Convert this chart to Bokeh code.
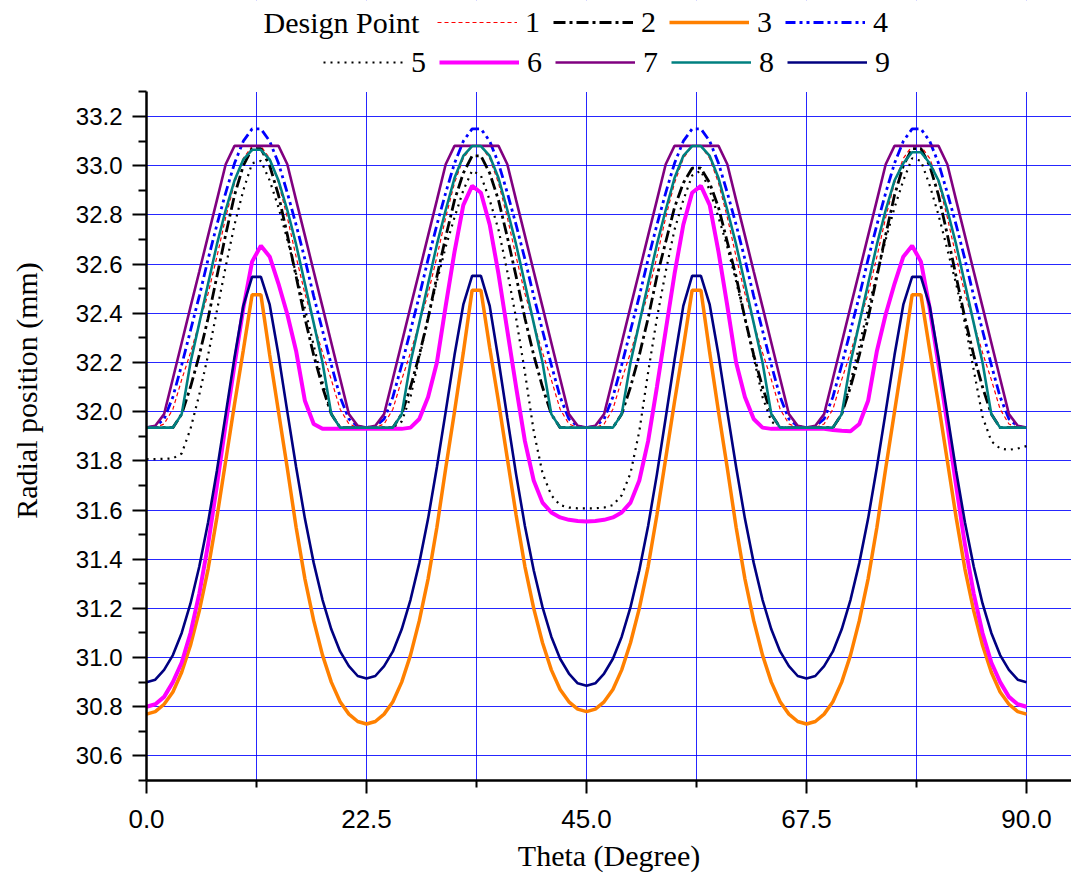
from bokeh.plotting import figure
from bokeh.models import (FixedTicker, NumeralTickFormatter, Legend, LegendItem, Label, Range1d,
                          BoxAnnotation)
from bokeh.embed import file_html
from bokeh.resources import INLINE

theta = [0.0, 0.9, 1.8, 2.7, 3.6, 4.5, 5.4, 6.3, 7.2, 8.1, 9.0, 9.9, 10.8, 11.7, 12.6, 13.5, 14.4, 15.3, 16.2, 17.1,
         18.0, 18.9, 19.8, 20.7, 21.6, 22.5, 23.4, 24.3, 25.2, 26.1, 27.0, 27.9, 28.8, 29.7, 30.6, 31.5, 32.4, 33.3,
         34.2, 35.1, 36.0, 36.9, 37.8, 38.7, 39.6, 40.5, 41.4, 42.3, 43.2, 44.1, 45.0, 45.9, 46.8, 47.7, 48.6, 49.5,
         50.4, 51.3, 52.2, 53.1, 54.0, 54.9, 55.8, 56.7, 57.6, 58.5, 59.4, 60.3, 61.2, 62.1, 63.0, 63.9, 64.8, 65.7,
         66.6, 67.5, 68.4, 69.3, 70.2, 71.1, 72.0, 72.9, 73.8, 74.7, 75.6, 76.5, 77.4, 78.3, 79.2, 80.1, 81.0, 81.9,
         82.8, 83.7, 84.6, 85.5, 86.4, 87.3, 88.2, 89.1, 90.0]

dp1 = [31.935, 31.935, 31.95, 32.01, 32.13, 32.24, 32.36, 32.48, 32.63, 32.79, 32.93, 33.03, 33.08, 33.08, 33.03, 32.93, 32.79, 32.63, 32.48, 32.36, 32.24, 32.13, 32.01, 31.95, 31.935, 31.935,
       31.935, 31.95, 32.01, 32.13, 32.24, 32.36, 32.48, 32.63, 32.79, 32.93, 33.03, 33.08, 33.08, 33.03, 32.93, 32.79, 32.63, 32.48, 32.36, 32.24, 32.13, 32.01, 31.95, 31.935, 31.935,
       31.935, 31.95, 32.01, 32.13, 32.24, 32.36, 32.48, 32.63, 32.79, 32.93, 33.03, 33.08, 33.08, 33.03, 32.93, 32.79, 32.63, 32.48, 32.36, 32.24, 32.13, 32.01, 31.95, 31.935, 31.935,
       31.935, 31.95, 32.01, 32.13, 32.24, 32.36, 32.48, 32.63, 32.79, 32.93, 33.03, 33.08, 33.08, 33.03, 32.93, 32.79, 32.63, 32.48, 32.36, 32.24, 32.13, 32.01, 31.95, 31.935, 31.935]

dp2 = [31.935, 31.935, 31.935, 31.935, 31.99, 32.1, 32.23, 32.38, 32.55, 32.72, 32.88, 33.0, 33.07, 33.07, 33.0, 32.88, 32.72, 32.55, 32.38, 32.23, 32.1, 31.99, 31.935, 31.935, 31.935, 31.935,
       31.935, 31.935, 31.935, 31.99, 32.1, 32.23, 32.38, 32.55, 32.71, 32.86, 32.97, 33.04, 33.04, 32.97, 32.86, 32.71, 32.55, 32.38, 32.23, 32.1, 31.99, 31.935, 31.935, 31.935, 31.935,
       31.935, 31.935, 31.935, 31.99, 32.1, 32.23, 32.38, 32.55, 32.69, 32.83, 32.93, 32.99, 32.99, 32.93, 32.83, 32.69, 32.55, 32.38, 32.23, 32.1, 31.99, 31.935, 31.935, 31.935, 31.935,
       31.935, 31.935, 31.935, 31.99, 32.1, 32.23, 32.38, 32.55, 32.72, 32.88, 33.0, 33.07, 33.07, 33.0, 32.88, 32.72, 32.55, 32.38, 32.23, 32.1, 31.99, 31.935, 31.935, 31.935, 31.935]

dp3 = [30.77, 30.78, 30.81, 30.86, 30.94, 31.05, 31.19, 31.36, 31.57, 31.80, 32.03, 32.25, 32.475, 32.475, 32.23, 32.00, 31.77, 31.53, 31.32, 31.15, 31.01, 30.90, 30.82, 30.77, 30.74, 30.73,
       30.74, 30.77, 30.82, 30.90, 31.01, 31.15, 31.32, 31.53, 31.77, 32.00, 32.24, 32.494, 32.494, 32.26, 32.04, 31.81, 31.58, 31.37, 31.20, 31.06, 30.95, 30.87, 30.82, 30.79, 30.78,
       30.79, 30.82, 30.87, 30.95, 31.06, 31.20, 31.37, 31.58, 31.81, 32.04, 32.26, 32.494, 32.494, 32.24, 32.00, 31.77, 31.53, 31.32, 31.15, 31.01, 30.90, 30.82, 30.77, 30.74, 30.73,
       30.74, 30.77, 30.82, 30.90, 31.01, 31.15, 31.32, 31.53, 31.77, 32.00, 32.23, 32.475, 32.475, 32.25, 32.03, 31.80, 31.57, 31.36, 31.19, 31.05, 30.94, 30.86, 30.81, 30.78, 30.77]

dp4 = [31.935, 31.94, 31.97, 32.06, 32.19, 32.33, 32.47, 32.62, 32.76, 32.89, 33.01, 33.10, 33.15, 33.15, 33.10, 33.01, 32.89, 32.76, 32.62, 32.47, 32.33, 32.19, 32.06, 31.97, 31.94, 31.935,
       31.94, 31.97, 32.06, 32.19, 32.33, 32.47, 32.62, 32.76, 32.89, 33.01, 33.10, 33.15, 33.15, 33.10, 33.01, 32.89, 32.76, 32.62, 32.47, 32.33, 32.19, 32.06, 31.97, 31.94, 31.935,
       31.94, 31.97, 32.06, 32.19, 32.33, 32.47, 32.62, 32.76, 32.89, 33.01, 33.10, 33.15, 33.15, 33.10, 33.01, 32.89, 32.76, 32.62, 32.47, 32.33, 32.19, 32.06, 31.97, 31.94, 31.935,
       31.94, 31.97, 32.06, 32.19, 32.33, 32.47, 32.62, 32.76, 32.89, 33.01, 33.10, 33.15, 33.15, 33.10, 33.01, 32.89, 32.76, 32.62, 32.47, 32.33, 32.19, 32.06, 31.97, 31.94, 31.935]

dp5 = [31.807, 31.807, 31.808, 31.81, 31.83, 31.93, 32.07, 32.23, 32.41, 32.59, 32.76, 32.9, 33.01, 33.02, 32.94, 32.83, 32.7, 32.56, 32.42, 32.27, 32.12, 31.99, 31.935, 31.935, 31.935, 31.935,
       31.935, 31.935, 31.935, 31.96, 32.06, 32.22, 32.38, 32.53, 32.67, 32.79, 32.9, 32.98, 32.96, 32.86, 32.74, 32.57, 32.38, 32.16, 31.92, 31.75, 31.66, 31.62, 31.61, 31.607, 31.607,
       31.607, 31.61, 31.62, 31.66, 31.75, 31.92, 32.16, 32.38, 32.57, 32.74, 32.86, 32.96, 32.98, 32.9, 32.79, 32.67, 32.53, 32.38, 32.22, 32.06, 31.96, 31.935, 31.935, 31.935, 31.935,
       31.935, 31.935, 31.935, 31.99, 32.12, 32.27, 32.42, 32.56, 32.7, 32.83, 32.94, 33.03, 33.02, 32.92, 32.8, 32.66, 32.52, 32.36, 32.17, 31.98, 31.88, 31.85, 31.845, 31.85, 31.86]

dp6 = [30.80, 30.81, 30.84, 30.90, 30.98, 31.10, 31.26, 31.46, 31.70, 31.95, 32.19, 32.42, 32.61, 32.675, 32.63, 32.52, 32.396, 32.247, 32.044, 31.95, 31.93, 31.93, 31.93, 31.93, 31.93, 31.93,
       31.93, 31.93, 31.93, 31.93, 31.935, 31.97, 32.06, 32.2, 32.43, 32.65, 32.84, 32.918, 32.89, 32.76, 32.56, 32.33, 32.1, 31.88, 31.72, 31.63, 31.59, 31.57, 31.56, 31.555, 31.553,
       31.555, 31.56, 31.57, 31.59, 31.63, 31.72, 31.88, 32.1, 32.33, 32.56, 32.76, 32.89, 32.918, 32.84, 32.65, 32.43, 32.2, 32.06, 31.97, 31.935, 31.93, 31.93, 31.93, 31.93, 31.93,
       31.93, 31.93, 31.925, 31.922, 31.92, 31.95, 32.044, 32.247, 32.396, 32.52, 32.63, 32.675, 32.61, 32.42, 32.19, 31.95, 31.70, 31.46, 31.26, 31.10, 30.98, 30.90, 30.84, 30.81, 30.80]

dp7 = [31.935, 31.943, 31.99, 32.135, 32.28, 32.426, 32.57, 32.716, 32.86, 33.006, 33.081, 33.081, 33.081, 33.081, 33.081, 33.081, 33.006, 32.86, 32.716, 32.57, 32.426, 32.28, 32.135, 31.99, 31.943, 31.935,
       31.943, 31.99, 32.135, 32.28, 32.426, 32.57, 32.716, 32.86, 33.006, 33.081, 33.081, 33.081, 33.081, 33.081, 33.081, 33.006, 32.86, 32.716, 32.57, 32.426, 32.28, 32.135, 31.99, 31.943, 31.935,
       31.943, 31.99, 32.135, 32.28, 32.426, 32.57, 32.716, 32.86, 33.006, 33.081, 33.081, 33.081, 33.081, 33.081, 33.081, 33.006, 32.86, 32.716, 32.57, 32.426, 32.28, 32.135, 31.99, 31.943, 31.935,
       31.943, 31.99, 32.135, 32.28, 32.426, 32.57, 32.716, 32.86, 33.006, 33.081, 33.081, 33.081, 33.081, 33.081, 33.081, 33.006, 32.86, 32.716, 32.57, 32.426, 32.28, 32.135, 31.99, 31.943, 31.935]

dp8 = [31.935, 31.935, 31.935, 31.935, 31.99, 32.2, 32.36, 32.52, 32.68, 32.82, 32.94, 33.025, 33.065, 33.065, 33.025, 32.94, 32.82, 32.68, 32.52, 32.36, 32.2, 31.99, 31.935, 31.935, 31.935, 31.935,
       31.935, 31.935, 31.935, 31.99, 32.2, 32.36, 32.52, 32.68, 32.82, 32.95, 33.04, 33.08, 33.08, 33.04, 32.95, 32.82, 32.68, 32.52, 32.36, 32.2, 31.99, 31.935, 31.935, 31.935, 31.935,
       31.935, 31.935, 31.935, 31.99, 32.2, 32.36, 32.52, 32.68, 32.82, 32.95, 33.04, 33.08, 33.08, 33.04, 32.95, 32.82, 32.68, 32.52, 32.36, 32.2, 31.99, 31.935, 31.935, 31.935, 31.935,
       31.935, 31.935, 31.935, 31.99, 32.2, 32.36, 32.52, 32.68, 32.82, 32.94, 33.01, 33.055, 33.055, 33.01, 32.94, 32.82, 32.68, 32.52, 32.36, 32.2, 31.99, 31.935, 31.935, 31.935, 31.935]

dp9 = [30.90, 30.91, 30.95, 31.01, 31.10, 31.22, 31.37, 31.55, 31.76, 31.99, 32.22, 32.43, 32.548, 32.548, 32.435, 32.23, 32.0, 31.775, 31.565, 31.385, 31.235, 31.115, 31.025, 30.965, 30.925, 30.915,
       30.925, 30.965, 31.025, 31.115, 31.235, 31.385, 31.565, 31.775, 32.0, 32.23, 32.435, 32.552, 32.552, 32.43, 32.21, 31.975, 31.745, 31.535, 31.355, 31.205, 31.085, 30.995, 30.935, 30.895, 30.885,
       30.895, 30.935, 30.995, 31.085, 31.205, 31.355, 31.535, 31.745, 31.975, 32.21, 32.43, 32.552, 32.552, 32.435, 32.23, 32.0, 31.775, 31.565, 31.385, 31.235, 31.115, 31.025, 30.965, 30.925, 30.915,
       30.925, 30.965, 31.025, 31.115, 31.235, 31.385, 31.565, 31.775, 32.0, 32.23, 32.435, 32.548, 32.548, 32.43, 32.22, 31.99, 31.76, 31.55, 31.37, 31.22, 31.10, 31.01, 30.95, 30.91, 30.90]

series_names = ["1", "2", "3", "4", "5", "6", "7", "8", "9"]
legend_title = "Design Point"
x_ticks = [0, 22.5, 45, 67.5, 90]
x_minor = [11.25, 33.75, 56.25, 78.75]
x_grid = [11.25, 22.5, 33.75, 45, 56.25, 67.5, 78.75, 90]
y_ticks = [30.6, 30.8, 31.0, 31.2, 31.4, 31.6, 31.8, 32.0, 32.2, 32.4, 32.6, 32.8, 33.0, 33.2]
y_minor = [30.5, 30.7, 30.9, 31.1, 31.3, 31.5, 31.7, 31.9, 32.1, 32.3, 32.5, 32.7, 32.9, 33.1, 33.3]
y_axis_top = 33.3

# the frame reaches the top of the page so that the legend (drawn above the axis) is not clipped
p = figure(frame_width=925, frame_height=780, x_range=Range1d(0, 94.6), y_range=Range1d(30.5, 33.672),
           output_backend="svg", toolbar_location=None,
           min_border_left=146, min_border_right=0, min_border_top=0, min_border_bottom=106)
p.outline_line_color = None
p.background_fill_color = "white"
p.border_fill_color = "white"

styles = [
    dict(line_color="#ff0000", line_width=1.2, line_dash="4 3"),
    dict(line_color="#000000", line_width=2.8, line_dash="12 4 3 4"),
    dict(line_color="#ff8000", line_width=3.5),
    dict(line_color="#0000ff", line_width=2.8, line_dash="10 4 3 4 3 4"),
    dict(line_color="#000000", line_width=2.2, line_dash="2 5"),
    dict(line_color="#ff00ff", line_width=4),
    dict(line_color="#800080", line_width=2.6),
    dict(line_color="#008080", line_width=2.6),
    dict(line_color="#000080", line_width=2.6),
]
data = [dp1, dp2, dp3, dp4, dp5, dp6, dp7, dp8, dp9]
renderers = []
for ys, st in zip(data, styles):
    renderers.append(p.line(theta, ys, **st))

# axes
for ax in (p.xaxis[0], p.yaxis[0]):
    ax.axis_line_width = 2.5
    ax.axis_line_color = "black"
    ax.major_tick_line_width = 2
    ax.minor_tick_line_width = 2
    ax.major_tick_line_color = "black"
    ax.minor_tick_line_color = "black"
    ax.major_tick_in = 0
    ax.minor_tick_in = 0
    ax.major_label_text_color = "black"
    ax.major_label_text_font = "Liberation Sans"
    ax.axis_label_text_font = "Liberation Serif"
    ax.axis_label_text_font_size = "30px"
    ax.axis_label_text_font_style = "normal"
    ax.axis_label_text_color = "black"
    ax.formatter = NumeralTickFormatter(format="0.0")

xa = p.xaxis[0]
xa.ticker = FixedTicker(ticks=x_ticks, minor_ticks=x_minor)
xa.major_tick_out = 13
xa.minor_tick_out = 7
xa.major_label_standoff = 16
xa.major_label_text_font_size = "26px"
xa.axis_label = "Theta (Degree)"
xa.axis_label_standoff = 8

ya = p.yaxis[0]
ya.ticker = FixedTicker(ticks=y_ticks, minor_ticks=y_minor)
ya.bounds = (30.5, y_axis_top)
ya.major_tick_out = 14
ya.minor_tick_out = 8
ya.major_label_standoff = 10
ya.major_label_text_font_size = "24px"
ya.axis_label = "Radial position (mm)"
ya.axis_label_standoff = 30

p.xgrid.ticker = FixedTicker(ticks=x_grid)
p.ygrid.ticker = FixedTicker(ticks=y_ticks)
for g in (p.xgrid[0], p.ygrid[0]):
    g.grid_line_color = "#0000ff"
    g.grid_line_width = 1
    g.grid_line_alpha = 0.85

# white cover over the grid above the axis top (legend area)
p.add_layout(BoxAnnotation(bottom=y_axis_top, fill_color="white", fill_alpha=1.0, line_alpha=0,
                           level="underlay"))

common = dict(orientation="horizontal", glyph_width=80, glyph_height=20, label_standoff=8, spacing=8,
              padding=0, margin=0, border_line_color=None, background_fill_alpha=0,
              label_text_font="Liberation Serif", label_text_font_size="30px", label_text_color="black",
              label_width=20, label_height=30)
leg1 = Legend(items=[LegendItem(label=series_names[i], renderers=[renderers[i]]) for i in range(4)],
              location=(291, 741), **common)
leg2 = Legend(items=[LegendItem(label=series_names[i], renderers=[renderers[i]]) for i in range(4, 9)],
              location=(177, 701), **common)
p.add_layout(leg1)
p.add_layout(leg2)

p.add_layout(Label(x=117, y=758, x_units="screen", y_units="screen", text=legend_title,
                   text_font="Liberation Serif", text_font_size="30px", text_baseline="middle",
                   text_color="black"))

open("out.html", "w").write(file_html(p, INLINE))
